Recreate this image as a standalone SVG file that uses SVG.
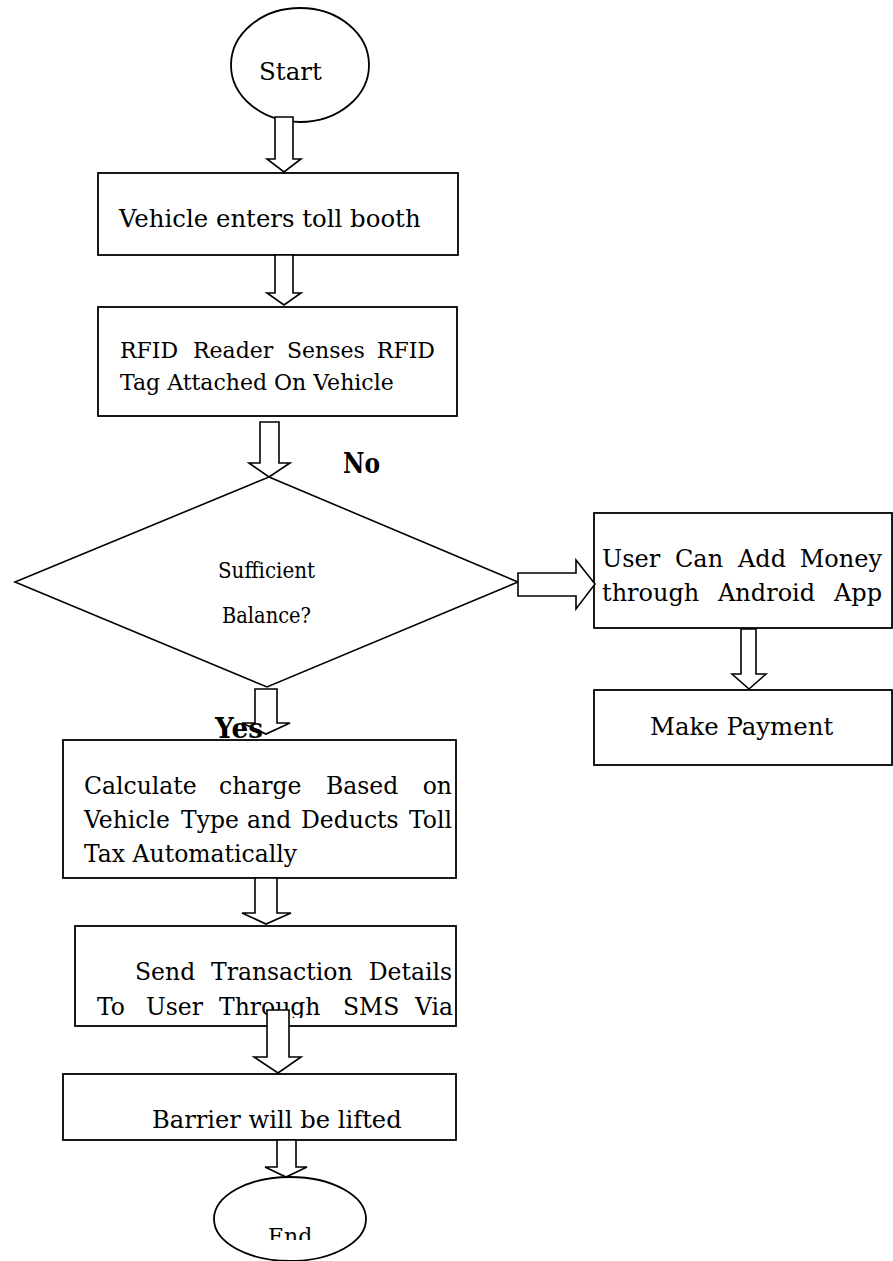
<svg xmlns="http://www.w3.org/2000/svg" width="893" height="1261" viewBox="0 0 893 1261">
<style>
.shape{fill:#fff;stroke:#000;stroke-width:1.8}
.dia{fill:#fff;stroke:#000;stroke-width:1.6}
.arr{fill:#fff;stroke:#000;stroke-width:1.6;stroke-linejoin:miter}
.t{font-family:"DejaVu Serif","Liberation Serif",serif;fill:#000}
.lb{font-family:"DejaVu Serif","Liberation Serif",serif;font-weight:bold;fill:#000}
</style>
<defs>
<clipPath id="clipSend"><rect x="0" y="900" width="893" height="118"/></clipPath>
<clipPath id="clipEnd"><rect x="0" y="1170" width="893" height="70"/></clipPath>
</defs>
<rect x="0" y="0" width="893" height="1261" fill="#fff"/>
<g id="start">
<ellipse class="shape" cx="300" cy="65" rx="69" ry="57"/>
<text class="t" x="259" y="80" font-size="24.5">Start</text>
</g>
<g id="enter">
<rect class="shape" x="98" y="173" width="360" height="82"/>
<text class="t" x="119" y="227" font-size="24.4">Vehicle enters toll booth</text>
</g>
<g id="rfid">
<rect class="shape" x="98" y="307" width="359" height="109"/>
<text class="t" y="358" font-size="22"><tspan x="120">RFID</tspan><tspan x="193">Reader</tspan><tspan x="287">Senses</tspan><tspan x="435" text-anchor="end">RFID</tspan></text>
<text class="t" x="120" y="390" font-size="22">Tag Attached On Vehicle</text>
</g>
<g id="decision">
<polygon class="dia" points="269,477 518,582 267,687 15,582"/>
<text class="t" x="218" y="578" font-size="22" textLength="97" lengthAdjust="spacingAndGlyphs">Sufficient</text>
<text class="t" x="222" y="623" font-size="22" textLength="89" lengthAdjust="spacingAndGlyphs">Balance?</text>
</g>
<g id="addmoney">
<rect class="shape" x="594" y="513" width="298" height="115"/>
<text class="t" y="567" font-size="24"><tspan x="602">User</tspan><tspan x="675">Can</tspan><tspan x="738">Add</tspan><tspan x="882" text-anchor="end">Money</tspan></text>
<text class="t" y="601" font-size="24"><tspan x="602">through</tspan><tspan x="718">Android</tspan><tspan x="882" text-anchor="end">App</tspan></text>
</g>
<g id="payment">
<rect class="shape" x="594" y="690" width="298" height="75"/>
<text class="t" x="650" y="735" font-size="24.4">Make Payment</text>
</g>
<g id="calculate">
<rect class="shape" x="63" y="740" width="393" height="138"/>
<text class="t" y="794" font-size="23.5"><tspan x="84">Calculate</tspan><tspan x="219">charge</tspan><tspan x="326">Based</tspan><tspan x="452" text-anchor="end">on</tspan></text>
<text class="t" y="828" font-size="23.5"><tspan x="84">Vehicle</tspan><tspan x="181">Type</tspan><tspan x="247">and</tspan><tspan x="301">Deducts</tspan><tspan x="452" text-anchor="end">Toll</tspan></text>
<text class="t" x="84" y="862" font-size="23.5">Tax Automatically</text>
</g>
<g id="send">
<rect class="shape" x="75" y="926" width="381" height="100"/>
<g clip-path="url(#clipSend)">
<text class="t" y="980" font-size="23.5"><tspan x="135">Send</tspan><tspan x="211">Transaction</tspan><tspan x="452" text-anchor="end">Details</tspan></text>
<text class="t" y="1015" font-size="23.5"><tspan x="97">To</tspan><tspan x="146">User</tspan><tspan x="219">Through</tspan><tspan x="343">SMS</tspan><tspan x="453" text-anchor="end">Via</tspan></text>
</g>
</g>
<g id="barrier">
<rect class="shape" x="63" y="1074" width="393" height="66"/>
<text class="t" x="152" y="1128" font-size="24.2">Barrier will be lifted</text>
</g>
<g id="end">
<ellipse class="shape" cx="290" cy="1219" rx="76" ry="42"/>
<g clip-path="url(#clipEnd)"><text class="t" x="268" y="1244" font-size="22">End</text></g>
</g>
<g id="connectors">
<polygon class="arr" points="275,117 293,117 293,159 301,159 284,172 267,159 275,159"/>
<polygon class="arr" points="275,255 293,255 293,293 301,293 284,305 267,293 275,293"/>
<polygon class="arr" points="260,422 279,422 279,463 290,463 269,477 249,463 260,463"/>
<polygon class="arr" points="518,573 576,573 576,560 595,584 576,609 576,596 518,596"/>
<polygon class="arr" points="741,629 756,629 756,674 766,674 749,689 732,674 741,674"/>
<polygon class="arr" points="255,689 277,689 277,723 290,723 266,734 242,723 255,723"/>
<polygon class="arr" points="255,878 277,878 277,913 291,913 266,924 242,913 255,913"/>
<polygon class="arr" points="267,1010 289,1010 289,1057 301,1057 278,1073 254,1057 267,1057"/>
<polygon class="arr" points="277,1140 296,1140 296,1167 307,1167 286,1177 265,1167 277,1167"/>
<text class="lb" x="343" y="473" font-size="27" textLength="37" lengthAdjust="spacingAndGlyphs">No</text>
<text class="lb" x="215" y="738" font-size="27" textLength="48" lengthAdjust="spacingAndGlyphs">Yes</text>
</g>
</svg>
